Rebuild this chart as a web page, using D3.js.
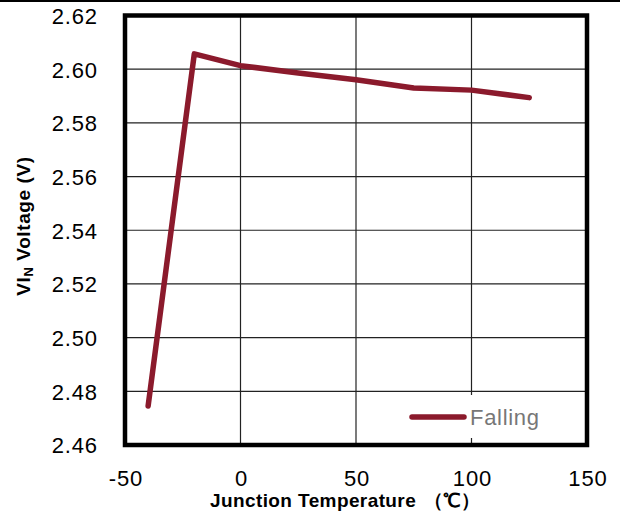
<!DOCTYPE html>
<html><head><meta charset="utf-8">
<script src="https://cdn.jsdelivr.net/npm/d3@7"></script>
<style>body{margin:0;background:#fff}svg{display:block}</style>
</head><body>
<script>
const temperatures = [-40, -20, 0, 25, 50, 75, 100, 125];
const fallingVoltage = [2.4745, 2.6057, 2.6013, 2.5986, 2.5961, 2.5930, 2.5922, 2.5894];
const xTicks = [-50, 0, 50, 100, 150];
const yTicks = [2.46, 2.48, 2.50, 2.52, 2.54, 2.56, 2.58, 2.60, 2.62];
const seriesName = "Falling";

const W = 620, H = 511;
const svg = d3.select("body").append("svg").attr("width", W).attr("height", H);
const x = d3.scaleLinear().domain([-50, 150]).range([125, 587]);
const y = d3.scaleLinear().domain([2.46, 2.62]).range([445, 15.5]);
const font = "'Liberation Sans', Arial, sans-serif";

// top page rule
svg.append("rect").attr("x", 0).attr("y", 0).attr("width", W).attr("height", 2).attr("fill", "#000");

// grid
const g = svg.append("g");
g.selectAll(".vg").data(xTicks.slice(1, -1)).join("line")
  .attr("x1", d => x(d)).attr("x2", d => x(d)).attr("y1", y(2.62)).attr("y2", y(2.46))
  .attr("stroke", "#222").attr("stroke-width", 1.2);
g.selectAll(".hg").data(yTicks.slice(1, -1)).join("line")
  .attr("y1", d => y(d)).attr("y2", d => y(d)).attr("x1", x(-50)).attr("x2", x(150))
  .attr("stroke", "#222").attr("stroke-width", 1.2);

// legend background
svg.append("rect").attr("x", 405).attr("y", 395).attr("width", 175).attr("height", 43).attr("fill", "#fff");

// axes (labels only)
const xAxis = d3.axisBottom(x).tickValues(xTicks).tickSize(0).tickPadding(0).tickFormat(d => String(d));
const xa = svg.append("g").attr("transform", `translate(0,${y(2.46)})`).call(xAxis);
xa.select(".domain").remove();
xa.selectAll("text").attr("font-family", font).attr("font-size", 22).attr("fill", "#000")
  .attr("letter-spacing", 0.8).attr("dy", null).attr("y", 40.5).attr("dx", 0.4);

const yAxis = d3.axisLeft(y).tickValues(yTicks).tickSize(0).tickPadding(0).tickFormat(d3.format(".2f"));
const ya = svg.append("g").attr("transform", `translate(97,0)`).call(yAxis);
ya.select(".domain").remove();
ya.selectAll("text").attr("font-family", font).attr("font-size", 22).attr("fill", "#000")
  .attr("letter-spacing", 0.8).attr("x", 0.8).attr("dy", "0.36em");

// frame
svg.append("rect").attr("x", x(-50)).attr("y", y(2.62)).attr("width", x(150) - x(-50)).attr("height", y(2.46) - y(2.62))
  .attr("fill", "none").attr("stroke", "#000").attr("stroke-width", 4.5);

// data line
const data = temperatures.map((t, i) => [t, fallingVoltage[i]]);
svg.append("path").datum(data)
  .attr("d", d3.line().x(d => x(d[0])).y(d => y(d[1])))
  .attr("fill", "none").attr("stroke", "#8B1A2C").attr("stroke-width", 5.5)
  .attr("stroke-linecap", "round").attr("stroke-linejoin", "round");

// legend
svg.append("line").attr("x1", 412).attr("x2", 464).attr("y1", 417).attr("y2", 417)
  .attr("stroke", "#8B1A2C").attr("stroke-width", 5.5).attr("stroke-linecap", "round");
svg.append("text").attr("x", 470).attr("y", 425).attr("font-family", font).attr("font-size", 22)
  .attr("letter-spacing", 0.7).attr("fill", "#777").text(seriesName);

// axis titles
const xt = svg.append("text").attr("x", 210).attr("y", 507).attr("font-family", font).attr("font-size", 19)
  .attr("letter-spacing", 0.4).attr("font-weight", "bold").attr("fill", "#000");
xt.append("tspan").text("Junction Temperature");
xt.append("tspan").attr("dx", 8).attr("letter-spacing", 0).text("（℃）");

const yt = svg.append("text").attr("transform", "translate(30,226) rotate(-90)").attr("text-anchor", "middle")
  .attr("font-family", font).attr("font-size", 19).attr("font-weight", "bold").attr("letter-spacing", 0.6).attr("fill", "#000");
yt.append("tspan").text("VI");
yt.append("tspan").attr("font-size", 13).attr("dy", 3).text("N");
yt.append("tspan").attr("dy", -3).text(" Voltage (V)");
</script>
</body></html>
